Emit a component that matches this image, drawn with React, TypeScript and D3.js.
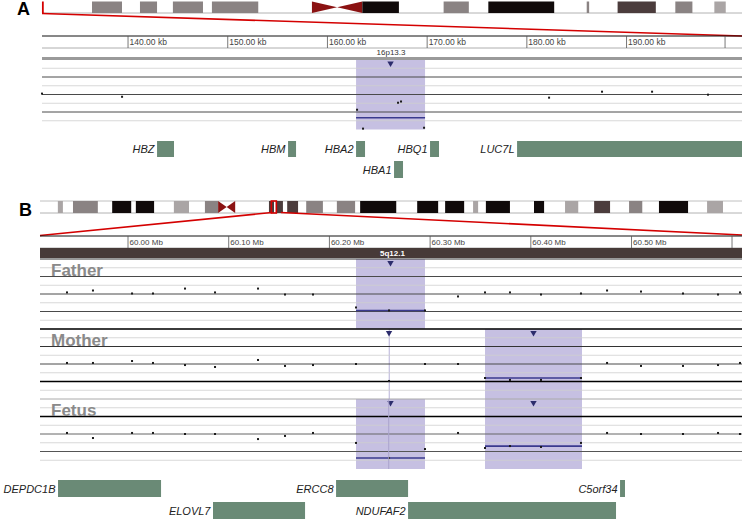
import React from 'react';
import * as d3 from 'd3';

// ---------- Panel A : chr16p13.3 (kb) ----------
const chr16Bands: [number, number, string][] = [
  [6.15, 9.84, 'gpos50'], [12.05, 14.15, 'gpos50'], [16.1, 19.8, 'gpos50'], [20.9, 26.6, 'gpos50'],
  [33.2, 39.4, 'acen'], [39.4, 43.9, 'gpos100'], [49.4, 52.5, 'gpos50'], [54.9, 63.0, 'gpos100'],
  [67.0, 67.3, 'gpos50'], [70.8, 75.5, 'gpos75'], [77.9, 80.0, 'gpos50'], [82.7, 84.1, 'gpos25'],
];
const chr16Length = 90.3;
const viewA: [number, number] = [131.37, 201.58];
const ticksA = [140, 150, 160, 170, 180, 190];
const rulerEndA = 199.88;
const bandLabelA = '16p13.3';
const probesA = [131.37, 139.4, 162.97, 163.57, 167.08, 167.38, 169.69, 182.23, 187.54, 192.56, 198.17];
const valuesA = [0.05, -0.13, -0.87, -1.95, -0.47, -0.4, -1.9, -0.18, 0.16, 0.16, -0.01];
const regionsA: [number, number][] = [[162.87, 169.79]];
const segmentsA: [number, number, number][] = [[162.87, 169.79, -1.33]];
const genesA: [string, number, number, number][] = [
  ['HBZ', 142.91, 144.61, 0], ['HBM', 156.05, 156.85, 0], ['HBA2', 162.87, 163.77, 0],
  ['HBQ1', 170.29, 171.19, 0], ['LUC7L', 179.02, 203.0, 0], ['HBA1', 166.68, 167.58, 1],
];

// ---------- Panel B : chr5q12.1 (Mb) ----------
const chr5Bands: [number, number, string][] = [
  [4.6, 5.9, 'gpos25'], [8.5, 14.9, 'gpos50'], [18.6, 23.5, 'gpos100'], [24.7, 29.4, 'gpos100'],
  [34.5, 38.4, 'gpos25'], [42.5, 45.9, 'gpos50'], [45.9, 50.3, 'acen'], [59.0, 60.3, 'gpos75'],
  [60.8, 62.6, 'gpos75'], [63.7, 66.5, 'gpos75'], [68.6, 72.9, 'gpos50'], [76.5, 81.2, 'gpos50'],
  [82.5, 91.8, 'gpos100'], [97.2, 102.6, 'gpos100'], [104.4, 109.3, 'gpos100'], [111.6, 112.9, 'gpos25'],
  [114.9, 121.1, 'gpos100'], [127.3, 129.9, 'gpos100'], [135.3, 138.7, 'gpos25'], [142.8, 146.9, 'gpos75'],
  [151.8, 155.2, 'gpos50'], [159.5, 167.0, 'gpos100'], [171.9, 176.0, 'gpos25'],
];
const chr5Length = 180.9;
const viewB: [number, number] = [59.9126, 60.6097];
const ticksB = [60.0, 60.1, 60.2, 60.3, 60.4, 60.5];
const rulerEndB = 60.5998;
const bandLabelB = '5q12.1';
const probesB = [59.9394, 59.9652, 60.004, 60.0248, 60.0566, 60.0864, 60.1291, 60.1559, 60.1837, 60.2264,
  60.2592, 60.2949, 60.3277, 60.3545, 60.3793, 60.4101, 60.4498, 60.4757, 60.5094, 60.5511, 60.5859, 60.6077];
const samples = ['Father', 'Mother', 'Fetus'];
const fatherValues = [0.09, 0.2, 0.03, 0.03, 0.31, 0.09, 0.31, -0.03, -0.03, -0.77, -0.94, -0.94, -0.14, 0.09,
  0.09, -0.03, 0.03, 0.2, 0.14, 0.03, -0.03, 0.09];
const motherValues = [0.06, 0.06, 0.17, 0.06, -0.06, -0.17, 0.23, -0.11, -0.06, 0, -0.97, 0, 0, -0.8, -0.91,
  -0.91, -0.8, 0.06, -0.11, -0.11, -0.06, 0.06];
const fetusValues = [0.06, -0.23, 0.06, 0.06, 0, 0, -0.29, -0.11, 0.06, -0.51, -1.37, -0.86, 0.06, -0.8, -0.69,
  -0.74, -0.51, 0.06, 0, 0, 0.06, 0];
const fatherRegions: [number, number][] = [[60.2264, 60.2949]];
const motherRegions: [number, number][] = [[60.2589, 60.2595], [60.3545, 60.4508]];
const fetusRegions: [number, number][] = [[60.2264, 60.2949], [60.3545, 60.4508]];
const fatherSegments: [number, number, number][] = [[60.2264, 60.2949, -0.94]];
const motherSegments: [number, number, number][] = [[60.3545, 60.4508, -0.8]];
const fetusSegments: [number, number, number][] = [[60.2264, 60.2949, -1.37], [60.3545, 60.4508, -0.69]];
const genesB: [string, number, number, number][] = [
  ['DEPDC1B', 59.9305, 60.0328, 0], ['ERCC8', 60.2066, 60.2781, 0], ['C5orf34', 60.4886, 60.4935, 0],
  ['ELOVL7', 60.0844, 60.1758, 1], ['NDUFAF2', 60.2781, 60.4846, 1],
];

const stain: Record<string, string> = {
  gpos25: '#aaa5a5', gpos50: '#8a8383', gpos75: '#4b3c3c', gpos100: '#100a0a', acen: '#8b1212',
};
const FONT = '"Liberation Sans", Arial, Helvetica, sans-serif';
const PURPLE = '#c6c0e2';
const NAVY = '#2c2c6c';
const GENE = '#6a8a76';

function Ideogram({ bands, length, x0, x1, y, h, sel, selMin, topLine }: any) {
  const s = d3.scaleLinear().domain([0, length]).range([x0, x1]);
  const cy = y + h / 2;
  return (
    <g>
      {topLine && <line x1={x0} x2={742} y1={y} y2={y} stroke="#b0b0b0" strokeWidth={0.8} />}
      <line x1={x0} x2={742} y1={y + h} y2={y + h} stroke="#a0a0a0" strokeWidth={0.8} />
      {bands.map((b: any, i: number) => {
        const a = s(b[0]), e = s(b[1]);
        if (b[2] === 'acen') {
          const m = (a + e) / 2;
          return (
            <g key={i}>
              <polygon points={`${a},${y} ${a},${y + h} ${m},${cy}`} fill={stain.acen} />
              <polygon points={`${e},${y} ${e},${y + h} ${m},${cy}`} fill={stain.acen} />
            </g>
          );
        }
        return <rect key={i} x={a} y={y} width={Math.max(e - a, 1.5)} height={h} fill={stain[b[2]]} />;
      })}
      {sel && (() => {
        const a = s(sel[0]), e = s(sel[1]);
        const w = Math.max(e - a, selMin);
        const c = (a + e) / 2;
        const xa = Math.max(c - w / 2, x0);
        if (w < 2) return <line x1={xa} x2={xa} y1={y} y2={y + h} stroke="#d40000" strokeWidth={1.8} />;
        return <rect x={xa} y={y} width={w} height={h} fill="none" stroke="#d40000" strokeWidth={1.6} />;
      })()}
    </g>
  );
}

function Ruler({ x, ticks, end, y, unit, fmt, fs }: any) {
  return (
    <g>
      <line x1={x.range()[0]} x2={742} y1={y} y2={y} stroke="#111" strokeWidth={1} />
      <line x1={x.range()[0]} x2={742} y1={y + 12} y2={y + 12} stroke="#999" strokeWidth={0.8} />
      {ticks.map((t: number) => (
        <g key={t}>
          <line x1={x(t)} x2={x(t)} y1={y} y2={y + 12} stroke="#555" strokeWidth={0.8} />
          <text x={x(t) + 1.5} y={y + 8.5} fontSize={fs} fill="#444" fontFamily={FONT}>{fmt(t)} {unit}</text>
        </g>
      ))}
      <line x1={x(end)} x2={x(end)} y1={y} y2={y + 12} stroke="#555" strokeWidth={0.8} />
    </g>
  );
}

function Track({ x, top, probes, values, regions, segments, lineStyles, label }: any) {
  const yS = d3.scaleLinear().domain([-2, 2]).range([top + 70, top]);
  const x0 = x.range()[0];
  const levels = d3.range(-2, 2.01, 0.5);
  return (
    <g>
      {regions.map((r: any, i: number) => {
        const a = x(r[0]), w = Math.max(x(r[1]) - a, 1);
        return <rect key={i} x={a} y={top} width={w} height={70} fill={w < 2 ? '#b8b2d8' : PURPLE} />;
      })}
      {levels.map((v: number, i: number) => {
        const st = lineStyles[i];
        if (!st) return null;
        return <line key={i} x1={x0} x2={742} y1={yS(v)} y2={yS(v)} stroke={st[0]} strokeWidth={st[1]} />;
      })}
      {label && (
        <text x={51} y={top + 17} fontSize={17} fontWeight="bold" fill="#8a8a8a" fontFamily={FONT}>{label}</text>
      )}
      {segments.map((s: any, i: number) => (
        <line key={i} x1={x(s[0])} x2={x(s[1])} y1={yS(s[2])} y2={yS(s[2])} stroke="#3a3a8e" strokeWidth={1.6} />
      ))}
      {probes.map((p: number, i: number) => (
        <rect key={i} x={x(p) - 1} y={yS(values[i]) - 1} width={2} height={2} fill="#1a1a1a" />
      ))}
      {regions.map((r: any, i: number) => {
        const c = (x(r[0]) + x(r[1])) / 2;
        return <polygon key={'t' + i} points={`${c - 3.2},${top + 2} ${c + 3.2},${top + 2} ${c},${top + 7.5}`} fill={NAVY} />;
      })}
    </g>
  );
}

function Genes({ x, genes, rows }: any) {
  return (
    <g>
      {genes.map((g: any, i: number) => {
        const [name, s, e, row] = g;
        const [yt, h] = rows[row];
        const a = x(s), b = Math.min(x(e), 742);
        return (
          <g key={i}>
            <rect x={a} y={yt} width={Math.max(b - a, 4)} height={h} fill={GENE} />
            <text x={a - 2.5} y={yt + h / 2 + 4} textAnchor="end" fontSize={11} fontStyle="italic" fill="#222" fontFamily={FONT}>{name}</text>
          </g>
        );
      })}
    </g>
  );
}

export default function App() {
  const xA = d3.scaleLinear().domain(viewA).range([42, 742]);
  const xB = d3.scaleLinear().domain(viewB).range([40, 742]);
  const chr16 = d3.scaleLinear().domain([0, chr16Length]).range([42, 42 + chr16Length * 8.13]);
  const chr5 = d3.scaleLinear().domain([0, chr5Length]).range([40, 742]);

  const light = ['#cfcfcf', 0.8];
  const dark = ['#4a4a4a', 1];
  const black = ['#000', 1.4];
  const stylesA = [null, light, dark, light, dark, light, dark, light, ['#666', 1]];
  const stylesTrack = [
    [light, light, dark, light, dark, light, dark, light, ['#333', 1]],
    [null, light, black, light, dark, light, ['#333', 1], light, black],
    [null, light, ['#555', 1], light, ['#666', 1], light, black, light, ['#aaa', 1]],
  ];
  const valuesB = [fatherValues, motherValues, fetusValues];
  const regionsB = [fatherRegions, motherRegions, fetusRegions];
  const segmentsB = [fatherSegments, motherSegments, fetusSegments];

  const selA: [number, number] = [viewA[0] / 1000, viewA[1] / 1000];
  const selB: [number, number] = viewB;
  const selBx = (chr5(selB[0]) + chr5(selB[1])) / 2;

  return (
    <svg width={742} height={519} style={{ position: 'absolute', left: 0, top: 0, display: 'block', background: '#fff' }}>
      <rect width={742} height={519} fill="#fff" />
      {/* ---------- A ---------- */}
      <text x={17} y={15} fontSize={18} fontWeight="bold" fontFamily={FONT} fill="#000">A</text>
      <Ideogram bands={chr16Bands} length={chr16Length} x0={42} x1={chr16(chr16Length)} y={1.5} h={11.5} sel={selA} selMin={1} />
      <line x1={42} y1={13.5} x2={742} y2={36} stroke="#d40000" strokeWidth={1.6} />
      <Ruler x={xA} ticks={ticksA} end={rulerEndA} y={36} unit="kb" fmt={(t: number) => t.toFixed(2)} fs={8.5} />
      <text x={(xA(regionsA[0][0]) + xA(regionsA[0][1])) / 2 - 14} y={55} fontSize={8} fill="#333" fontFamily={FONT}>{bandLabelA}</text>
      <Track x={xA} top={59.5} probes={probesA} values={valuesA} regions={regionsA} segments={segmentsA} lineStyles={stylesA} />
      <rect x={42} y={57} width={700} height={3} fill="#9a9a9a" />
      <Genes x={xA} genes={genesA} rows={[[141, 16], [161, 17]]} />

      {/* ---------- B ---------- */}
      <text x={19} y={216} fontSize={18} fontWeight="bold" fontFamily={FONT} fill="#000">B</text>
      <Ideogram bands={chr5Bands} length={chr5Length} x0={40} x1={742} y={201} h={12} sel={selB} selMin={5} topLine />
      <line x1={selBx - 2} y1={212.5} x2={40} y2={235.5} stroke="#d40000" strokeWidth={1.6} />
      <line x1={selBx + 7} y1={212.5} x2={742} y2={235} stroke="#d40000" strokeWidth={1.6} />
      <Ruler x={xB} ticks={ticksB} end={rulerEndB} y={236} unit="Mb" fmt={(t: number) => t.toFixed(2)} fs={8} />
      <rect x={40} y={248} width={702} height={10} fill="#473a38" />
      <text x={380} y={256} fontSize={8} fontWeight="bold" fill="#fff" fontFamily={FONT}>{bandLabelB}</text>
      {samples.map((s, i) => (
        <Track key={s} x={xB} top={259 + i * 70} probes={probesB} values={valuesB[i]} regions={regionsB[i]}
          segments={segmentsB[i]} lineStyles={stylesTrack[i]} label={s} />
      ))}
      <line x1={xB(motherRegions[0][0])} x2={xB(motherRegions[0][0])} y1={399} y2={469} stroke="#a9a3cc" strokeWidth={1} />
      <Genes x={xB} genes={genesB} rows={[[480, 17], [502, 17]]} />
    </svg>
  );
}
